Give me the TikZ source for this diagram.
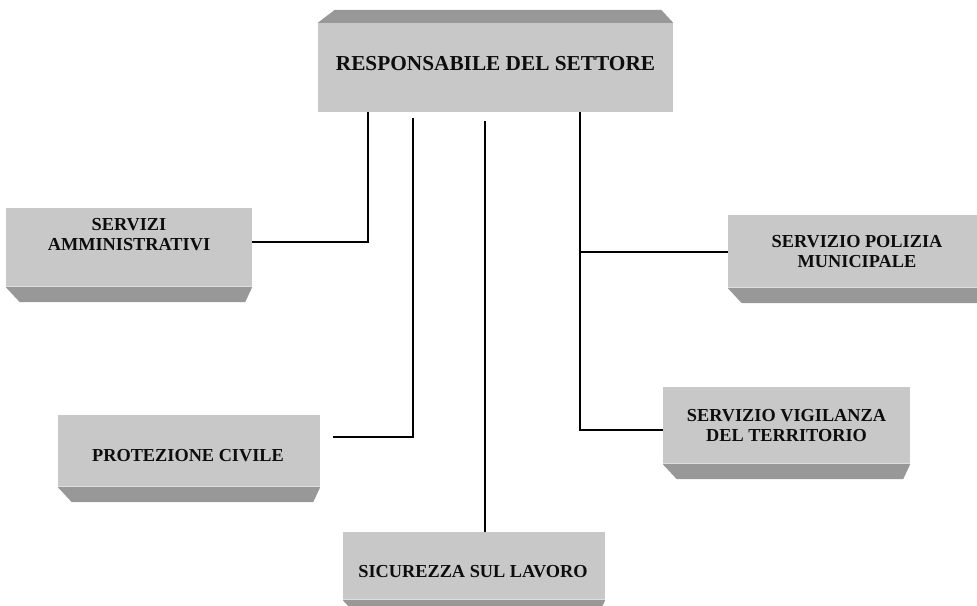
\documentclass[tikz,border=0pt]{standalone}
\usepackage{fontspec}
\setmainfont{Liberation Serif}
\usetikzlibrary{calc}
\definecolor{facec}{RGB}{200,200,200}
\definecolor{bevelc}{RGB}{152,152,152}
\definecolor{edgec}{RGB}{222,222,222}
\tikzset{
  orgbox/.style 2 args={fill=facec, draw=none, inner sep=0pt, minimum width=#1, minimum height=#2},
  txt/.style={font=\bfseries\fontsize{18.3}{20}\selectfont, align=center, text=black!95},
  toptxt/.style={font=\bfseries\fontsize{21.3}{24}\selectfont, align=center, text=black!95},
  conn/.style={draw=black, line width=2pt},
  bev/.style={fill=bevelc, draw=none}
}
\newcommand\bevelbelow[1]{%
  \fill[bev] (#1.south west) -- (#1.south east) -- ($(#1.south east)+(-7,15)$) -- ($(#1.south west)+(14,15)$) -- cycle;
  \draw[edgec, line width=1pt] ($(#1.south west)+(0,-0.5)$) -- ($(#1.south east)+(0,-0.5)$);}
\begin{document}
\begin{tikzpicture}[x=1pt, y=-1pt]
\useasboundingbox (0,0) rectangle (977,605);
\clip (0,0) rectangle (977,605);

% boxes
\node[orgbox={355}{89}, label={[toptxt, yshift=3.5pt]center:RESPONSABILE DEL SETTORE}] (top) at (495.5,67.5) {};
\node[orgbox={246}{79}, label={[txt, yshift=12.5pt]center:{SERVIZI\\AMMINISTRATIVI}}] (amm) at (129,247.5) {};
\node[orgbox={262}{72}, label={[txt, yshift=-5pt, xshift=-1pt]center:PROTEZIONE CIVILE}] (prot) at (189,451) {};
\node[orgbox={262}{68}, label={[txt, yshift=-5.5pt, xshift=-1pt]center:SICUREZZA SUL LAVORO}] (sic) at (474,566) {};
\node[orgbox={247}{77}, label={[txt]center:{SERVIZIO VIGILANZA\\DEL TERRITORIO}}] (vig) at (786.5,425.5) {};
\node[orgbox={258}{73}, label={[txt]center:{SERVIZIO POLIZIA\\MUNICIPALE}}] (pol) at (857,251.5) {};

% bevels
\fill[bev] (top.north west) -- (top.north east) -- ($(top.north east)+(-12,-13)$) -- ($(top.north west)+(17,-13)$) -- cycle;
\bevelbelow{amm}
\bevelbelow{prot}
\bevelbelow{sic}
\bevelbelow{vig}
\bevelbelow{pol}

% connectors
\coordinate (t1) at ($(top.south west)+(50.5,0)$);
\coordinate (t2) at ($(top.south west)+(95,6)$);
\coordinate (t3) at ($(top.south west)+(167,9)$);
\coordinate (t4) at ($(top.south west)+(262,0)$);
\draw[conn] (t1) |- ([yshift=6pt]amm.east);
\draw[conn] (t2) |- ([xshift=13pt, yshift=14pt]prot.east);
\draw[conn] (t3) -- (t3 |- sic.north);
\draw[conn] (t4) |- ([yshift=-4.5pt]vig.west);
\draw[conn] (t4 |- pol.west) -- (pol.west);
\end{tikzpicture}
\end{document}
